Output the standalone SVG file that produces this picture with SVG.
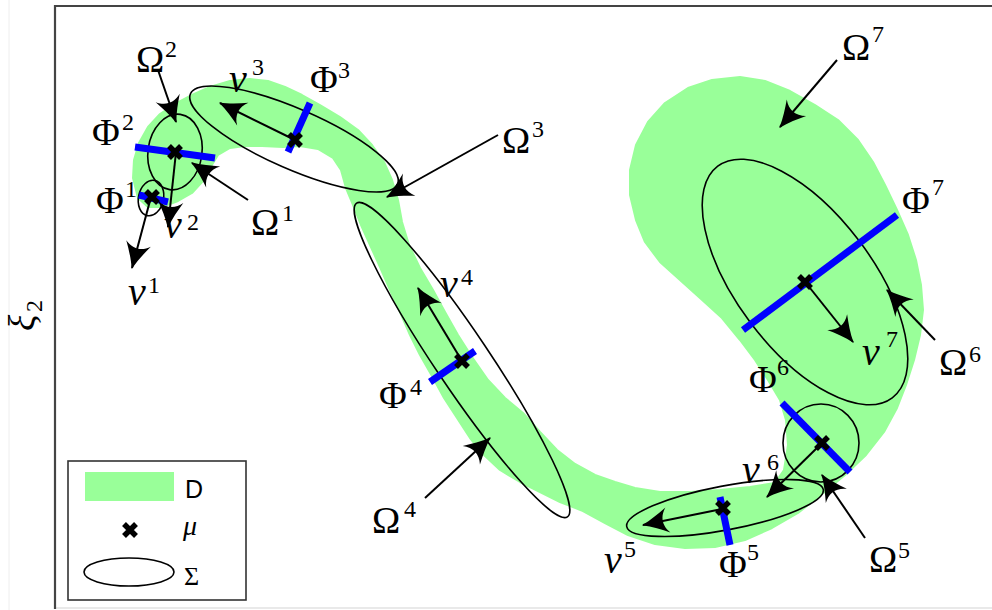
<svg xmlns="http://www.w3.org/2000/svg" width="992" height="610" viewBox="0 0 992 610">
<style>
.m{font-family:"Liberation Serif","DejaVu Serif",serif;font-size:38px;fill:#000}
.v{font-family:"Liberation Serif","DejaVu Serif",serif;font-size:40px;font-style:italic;fill:#000}
.s{font-family:"Liberation Serif","DejaVu Serif",serif;font-size:24px;fill:#000}
.i{font-style:italic}
.ell{fill:none;stroke:#000;stroke-width:1.6}
.phi{stroke:#0000ff;stroke-width:7;fill:none}
.arr{stroke:#000;stroke-width:2;fill:none;marker-end:url(#ah)}
.mu{stroke:#000;stroke-width:5.5;fill:none}
</style>
<defs>
<marker id="ah" markerUnits="userSpaceOnUse" orient="auto" refX="0" refY="0" markerWidth="30" markerHeight="30" viewBox="-24 -12 26 24" overflow="visible">
<path d="M1,0 C-8,-3 -15,-7 -22,-11 C-16,-4 -16,4 -22,11 C-15,7 -8,3 1,0 Z" fill="#000"/>
</marker>
<path id="x" d="M-6,-6 L6,6 M-6,6 L6,-6"/>
</defs>
<rect width="992" height="610" fill="#fff"/>
<g id="frame">
<line x1="9" y1="0" x2="9" y2="610" stroke="#eeeeee" stroke-width="1"/>
<line x1="55" y1="608" x2="992" y2="608" stroke="#e2e2e2" stroke-width="1.5"/>
<path d="M55,609 L55,6 L992,6" fill="none" stroke="#444" stroke-width="2.2"/>
</g>
<g id="axis-label">
<g transform="translate(35,331) rotate(-90)">
<text class="m i" x="0" y="0">ξ</text>
<text class="s" x="19" y="7">2</text>
</g>
</g>
<g id="D">
<path fill="#99ff99" stroke="#99ff99" stroke-width="2" stroke-linejoin="round" d="M133,178 L134,160 L139,143 L148,127 L160,114 L175,104 L192,95 L210,87 L230,81 L250,79 L268,81 L285,87 L302,95 L320,105 L340,117 L358,130 L372,145 L384,162 L392,180 L398,200 L402,222 L409,245 L420,268 L433,290 L445,312 L458,335 L472,357 L488,380 L505,398 L523,413 L540,432 L557,450 L575,464 L595,475 L615,482 L635,488 L660,492 L690,492 L720,490 L750,487 L775,483 L784,470 L788,445 L786,420 L780,400 L768,380 L755,360 L740,340 L722,318 L700,298 L680,280 L660,262 L645,242 L636,220 L630,195 L630,170 L636,145 L648,122 L665,103 L688,88 L712,80 L740,77 L765,81 L790,91 L815,105 L838,120 L858,140 L873,162 L885,185 L897,210 L908,235 L916,260 L921,285 L923,310 L920,335 L914,360 L906,385 L897,408 L884,432 L866,455 L845,475 L822,494 L798,513 L772,528 L745,540 L715,547 L685,548 L655,544 L628,535 L605,523 L583,511 L560,502 L540,492 L520,482 L500,470 L484,455 L470,438 L457,418 L444,398 L432,376 L420,355 L410,335 L400,312 L390,290 L380,267 L370,245 L361,225 L353,205 L346,188 L341,170 L333,158 L318,149 L300,146 L283,147 L262,146 L245,146 L230,148 L218,155 L210,168 L202,182 L192,193 L178,201 L162,207 L148,207 L138,198 Z"/>
</g>
<g id="omega1"><ellipse class="ell" cx="151" cy="198" rx="12.5" ry="18" transform="rotate(12 151 198)"/></g>
<g id="omega2"><ellipse class="ell" cx="175" cy="152" rx="27" ry="38" transform="rotate(8 175 152)"/></g>
<g id="omega3"><ellipse class="ell" cx="294" cy="139" rx="113" ry="30" transform="rotate(23.6 294 139)"/></g>
<g id="omega4"><ellipse class="ell" cx="462" cy="360" rx="189" ry="27" transform="rotate(56.1 462 360)"/></g>
<g id="omega5"><ellipse class="ell" cx="725" cy="508" rx="100" ry="22" transform="rotate(-10.7 725 508)"/></g>
<g id="omega6"><ellipse class="ell" cx="821" cy="443" rx="38" ry="39"/></g>
<g id="omega7"><ellipse class="ell" cx="805" cy="282" rx="145" ry="68" transform="rotate(53 805 282)"/></g>
<g id="phis">
<line class="phi" x1="139" y1="195" x2="168" y2="202"/>
<line class="phi" x1="135" y1="147" x2="215" y2="158"/>
<line class="phi" x1="310" y1="103" x2="288" y2="152"/>
<line class="phi" x1="430" y1="382" x2="475" y2="351"/>
<line class="phi" x1="720" y1="497" x2="730" y2="545"/>
<line class="phi" x1="782" y1="403" x2="850" y2="472"/>
<line class="phi" x1="897" y1="215" x2="743" y2="330"/>
</g>
<g id="connectors">
<line class="arr" x1="151" y1="197" x2="132" y2="268"/>
<line class="arr" x1="176" y1="152" x2="168" y2="227"/>
<line class="arr" x1="295" y1="140" x2="220" y2="103"/>
<line class="arr" x1="462" y1="361" x2="418" y2="288"/>
<line class="arr" x1="722" y1="509" x2="643" y2="525"/>
<line class="arr" x1="822" y1="443" x2="767" y2="497"/>
<line class="arr" x1="806" y1="283" x2="853" y2="342"/>
<line class="arr" x1="158" y1="70" x2="176" y2="122"/>
<line class="arr" x1="248" y1="200" x2="192" y2="163"/>
<line class="arr" x1="498" y1="135" x2="387" y2="197"/>
<line class="arr" x1="425" y1="498" x2="490" y2="438"/>
<line class="arr" x1="865" y1="538" x2="822" y2="475"/>
<line class="arr" x1="935" y1="340" x2="887" y2="290"/>
<line class="arr" x1="837" y1="60" x2="780" y2="127"/>
</g>
<g id="mus">
<use href="#x" class="mu" x="152" y="197"/>
<use href="#x" class="mu" x="175" y="152"/>
<use href="#x" class="mu" x="295" y="140"/>
<use href="#x" class="mu" x="462" y="361"/>
<use href="#x" class="mu" x="723" y="508"/>
<use href="#x" class="mu" x="822" y="443"/>
<use href="#x" class="mu" x="805" y="282"/>
</g>
<g id="labels">
<text class="m" x="136" y="72">Ω</text><text class="s" x="165" y="57">2</text>
<text class="m" x="92" y="145">Φ</text><text class="s" x="122" y="130">2</text>
<text class="m" x="96" y="213">Φ</text><text class="s" x="125" y="197">1</text>
<text class="v" x="164" y="238">v</text><text class="s" x="187" y="230">2</text>
<text class="v" x="128" y="305">v</text><text class="s" x="148" y="293">1</text>
<text class="v" x="229" y="92">v</text><text class="s" x="252" y="75">3</text>
<text class="m" x="310" y="92">Φ</text><text class="s" x="338" y="78">3</text>
<text class="m" x="251" y="235">Ω</text><text class="s" x="282" y="221">1</text>
<text class="m" x="502" y="153">Ω</text><text class="s" x="532" y="137">3</text>
<text class="v" x="440" y="297">v</text><text class="s" x="461" y="285">4</text>
<text class="m" x="379" y="408">Φ</text><text class="s" x="410" y="395">4</text>
<text class="m" x="372" y="533">Ω</text><text class="s" x="404" y="517">4</text>
<text class="v" x="604" y="573">v</text><text class="s" x="624" y="557">5</text>
<text class="m" x="719" y="577">Φ</text><text class="s" x="747" y="560">5</text>
<text class="m" x="869" y="572">Ω</text><text class="s" x="898" y="558">5</text>
<text class="v" x="742" y="483">v</text><text class="s" x="767" y="470">6</text>
<text class="m" x="749" y="392">Φ</text><text class="s" x="777" y="375">6</text>
<text class="v" x="862" y="365">v</text><text class="s" x="886" y="347">7</text>
<text class="m" x="939" y="375">Ω</text><text class="s" x="969" y="362">6</text>
<text class="m" x="842" y="60">Ω</text><text class="s" x="872" y="42">7</text>
<text class="m" x="902" y="213">Φ</text><text class="s" x="932" y="195">7</text>
</g>
<g id="legend">
<rect x="68" y="461" width="178" height="139" fill="#fff" stroke="#333" stroke-width="1.6"/>
<rect x="85" y="472" width="89" height="29" fill="#99ff99"/>
<text x="185" y="498" font-family="Liberation Sans, Arial, sans-serif" font-size="25">D</text>
<use href="#x" class="mu" x="130" y="530"/>
<text class="i" x="183" y="535" font-family="Liberation Serif, serif" font-size="28">μ</text>
<ellipse cx="129" cy="572" rx="45" ry="14" class="ell"/>
<text x="184" y="585" font-family="Liberation Serif, serif" font-size="26">Σ</text>
</g>
</svg>
